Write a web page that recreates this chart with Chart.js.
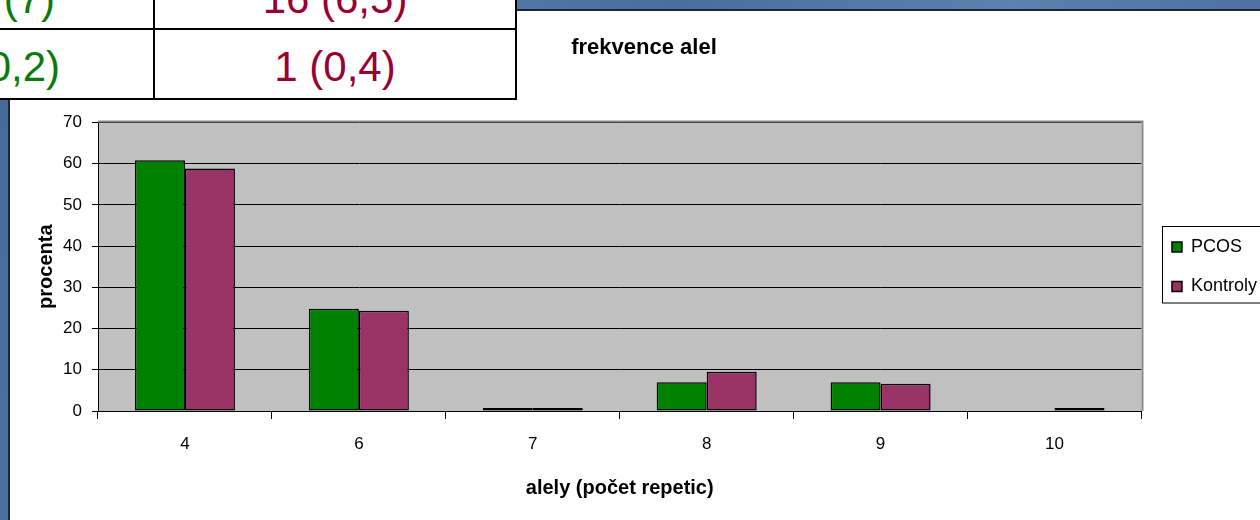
<!DOCTYPE html>
<html>
<head>
<meta charset="utf-8">
<script src="https://cdn.jsdelivr.net/npm/chart.js@4"></script>
<style>
    html, body { margin: 0; padding: 0; }
    body {
        width: 1260px; height: 520px; overflow: hidden; position: relative;
        font-family: 'Liberation Sans', Arial, sans-serif;
        background: linear-gradient(100deg, #46699a 0%, #5a7fac 25%, #4a6e9c 50%, #5c81ae 75%, #486b9b 100%);
    }
    .sheet {
        position: absolute; left: 8px; top: 9px; right: 0; bottom: 0;
        background: #fff; border-left: 2px solid #1b2634; border-top: 2px solid #1b2634;
    }
    .tbl {
        position: absolute; left: -10px; top: -10px; width: 525px; height: 108px;
        background: #fff; border-right: 2px solid #000; border-bottom: 2px solid #000; z-index: 2;
    }
    .tbl .vline { position: absolute; left: 163px; top: 0; width: 2px; height: 108px; background: #000; }
    .tbl .hline { position: absolute; left: 0; top: 38px; width: 525px; height: 2px; background: #000; }
    .tbl span { position: absolute; font-size: 42px; line-height: 42px; white-space: nowrap; }
    .pcos { color: #0a7a0a; }
    .kon { color: #990033; }
    #chart { position: absolute; left: 0; top: 0; z-index: 1; }
</style>
</head>
<body>
<div class="sheet"></div>
<div class="tbl">
    <div class="vline"></div>
    <div class="hline"></div>
    <span class="pcos" style="right:460px; top:-12px">(7)</span>
    <span class="kon" style="left:165px; width:360px; text-align:center; top:-12px">16 (6,5)</span>
    <span class="pcos" style="right:455px; top:56px">(0,2)</span>
    <span class="kon" style="left:165px; width:360px; text-align:center; top:56px">1 (0,4)</span>
</div>
<canvas id="chart" width="1267" height="520"></canvas>
<script>
// data (no PCOS bar at allele 10)
const categories = ['4', '6', '7', '8', '9', '10'];
const pcosValues = [60.8, 24.8, 0.2, 7.0, 7.0, null];
const kontrolyValues = [58.8, 24.3, 0.4, 9.5, 6.6, 0.4];
const seriesNames = ['PCOS', 'Kontroly'];
const yMin = 0, yMax = 70, yStep = 10;
const chartTitle = 'frekvence alel';
const xTitle = 'alely (počet repetic)';
const yTitle = 'procenta';

Chart.defaults.font.family = "'Liberation Sans', Arial, sans-serif";
Chart.defaults.color = '#000';

// grey plot area like the old excel charts
const plotArea = {
    id: 'plotArea',
    beforeDraw(chart) {
        const { ctx, chartArea: a } = chart;
        ctx.save();
        ctx.fillStyle = '#c0c0c0';
        ctx.fillRect(a.left, a.top, a.right - a.left, a.bottom - a.top);
        ctx.restore();
    },
    afterDraw(chart) {
        const { ctx, chartArea: a } = chart;
        ctx.save();
        ctx.strokeStyle = '#888';
        ctx.lineWidth = 2;
        ctx.beginPath();
        ctx.moveTo(a.left, a.top - 1);
        ctx.lineTo(a.right + 1, a.top - 1);
        ctx.lineTo(a.right + 1, a.bottom);
        ctx.stroke();
        ctx.restore();
    }
};

// frame round the legend
const legendFrame = {
    id: 'legendFrame',
    afterDraw(chart) {
        const lg = chart.legend;
        const hb = lg && lg.legendHitBoxes;
        if (!hb || !hb.length) return;
        const last = hb[hb.length - 1];
        const x = Math.round(hb[0].left) - 9.5;
        const y = Math.round(hb[0].top) - 11.5;
        const h = Math.round(last.top + last.height) + 8 - y;
        const ctx = chart.ctx;
        ctx.save();
        ctx.strokeStyle = '#000';
        ctx.lineWidth = 1;
        ctx.strokeRect(x, y, lg.right - x + 5, h);
        ctx.restore();
    }
};

new Chart(document.getElementById('chart'), {
    type: 'bar',
    data: {
        labels: categories,
        datasets: [
            {
                label: seriesNames[0], data: pcosValues,
                backgroundColor: '#008000', borderColor: '#000', borderWidth: 1.5, borderSkipped: false,
                minBarLength: 3, categoryPercentage: 0.575, barPercentage: 1
            },
            {
                label: seriesNames[1], data: kontrolyValues,
                backgroundColor: '#993366', borderColor: '#000', borderWidth: 1.5, borderSkipped: false,
                minBarLength: 3, categoryPercentage: 0.575, barPercentage: 1
            }
        ]
    },
    options: {
        responsive: false,
        animation: false,
        devicePixelRatio: 1,
        layout: { padding: { left: 21, top: 0, right: 0, bottom: 0 } },
        plugins: {
            title: {
                display: true, text: chartTitle, color: '#000',
                font: { size: 22, weight: 'bold' },
                padding: { top: 35, bottom: 61 }
            },
            legend: {
                position: 'right',
                fullSize: false,
                labels: { color: '#000', font: { size: 18 }, boxWidth: 10, boxHeight: 10, padding: 21.5 }
            },
            tooltip: { enabled: false }
        },
        scales: {
            x: {
                grid: { display: true, drawOnChartArea: false, drawTicks: true, tickLength: 8, color: '#000', offset: true },
                border: { display: true, color: '#000', width: 1 },
                ticks: { color: '#000', font: { size: 17 }, padding: 15 },
                title: {
                    display: true, text: xTitle, color: '#000',
                    font: { size: 20, weight: 'bold' }, padding: { top: 0, bottom: 20 }
                },
                afterFit(s) { s.height = 109; }
            },
            y: {
                min: yMin, max: yMax,
                ticks: { stepSize: yStep, color: '#000', font: { size: 17 }, padding: 10 },
                grid: { color: '#000', tickLength: 6 },
                border: { color: '#000' },
                title: {
                    display: true, text: yTitle, color: '#000',
                    font: { size: 20, weight: 'bold' }, padding: { top: 13, bottom: 0 }
                },
                afterFit(s) { s.width = 77; }
            },
            // empty strip between plot and legend
            gap: {
                type: 'linear', position: 'right', display: true,
                grid: { display: false }, border: { display: false }, ticks: { display: false },
                afterFit(s) { s.width = 9; }
            }
        }
    },
    plugins: [plotArea, legendFrame]
});
</script>
</body>
</html>
